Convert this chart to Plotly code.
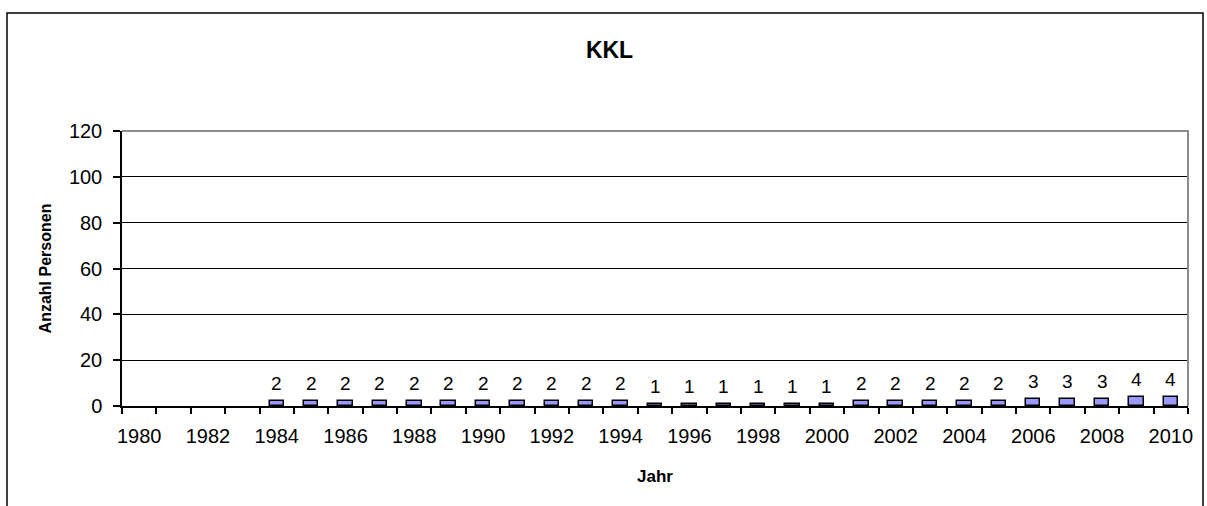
import plotly.graph_objects as go

years = list(range(1980, 2011))
persons = [None, None, None, None,
           2, 2, 2, 2, 2, 2, 2, 2, 2, 2, 2,
           1, 1, 1, 1, 1, 1,
           2, 2, 2, 2, 2,
           3, 3, 3,
           4, 4]
tick_years = list(range(1980, 2011, 2))
y_ticks = [0, 20, 40, 60, 80, 100, 120]

title_text = "KKL"
x_title = "Jahr"
y_title = "Anzahl Personen"

W, H = 1207, 506
L, R, T, B = 122, 19, 131, 100
pw, ph = W - L - R, H - T - B

def px_x(px):
    return (px - L) / pw

def px_y(py):
    return (H - B - py) / ph

fig = go.Figure()
fig.add_trace(go.Bar(
    x=years, y=persons, width=0.42,
    marker=dict(color="#9999FF", line=dict(color="#000000", width=1.5)),
    hoverinfo="x+y", showlegend=False,
))

for yr, v in zip(years, persons):
    if v is None:
        continue
    fig.add_annotation(x=yr, y=v, text=str(v), showarrow=False,
                       yanchor="bottom", xanchor="center", yshift=5,
                       font=dict(family="Liberation Sans, Arial", size=19, color="#000"))

fig.update_layout(
    width=W, height=H,
    margin=dict(l=L, r=R, t=T, b=B),
    paper_bgcolor="white", plot_bgcolor="white",
    font=dict(family="Liberation Sans, Arial", color="#000"),
    title=dict(text="<b>%s</b>" % title_text, x=0.505, xref="container", xanchor="center",
               y=1 - 50 / H, yref="container", yanchor="middle",
               font=dict(size=23, color="#000")),
    xaxis=dict(range=[1979.5, 2010.5], tickmode="array", tickvals=tick_years,
               ticktext=[str(t) for t in tick_years], ticks="",
               showgrid=False, zeroline=False,
               showline=True, linecolor="#000", linewidth=1.5,
               tickfont=dict(size=20), ticklabelstandoff=11,
               minor=dict(tick0=1979.5, dtick=1, ticks="outside", ticklen=6,
                          tickcolor="#000", tickwidth=1.5, showgrid=False),
               title=dict(text="<b>%s</b>" % x_title, font=dict(size=17), standoff=24)),
    yaxis=dict(range=[0, 120], tickmode="array", tickvals=y_ticks,
               ticks="outside", ticklen=7, tickcolor="#000", tickwidth=1.5,
               showgrid=True, gridcolor="#000", gridwidth=1, zeroline=False,
               showline=True, linecolor="#000", linewidth=1.5,
               tickfont=dict(size=20), ticklabelstandoff=7,
               title=dict(text="<b>%s</b>" % y_title, font=dict(size=16), standoff=13)),
    bargap=0,
)

# plot-area border (grey, top and right)
fig.add_shape(type="path", xref="paper", yref="paper",
              path="M 0 1 L 1 1 L 1 0", line=dict(color="#8c8c8c", width=2), layer="above")
# outer chart frame
fig.add_shape(type="rect", xref="paper", yref="paper",
              x0=px_x(7), x1=px_x(1203), y0=px_y(530), y1=px_y(13),
              line=dict(color="#000", width=1.5), fillcolor="rgba(0,0,0,0)", layer="above")

fig.write_html("out.html", config={"displayModeBar": False},
               post_script="document.body.style.margin='0';")
